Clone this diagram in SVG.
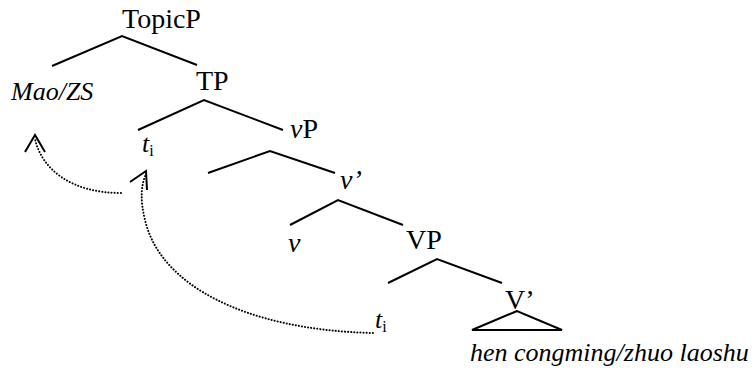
<svg xmlns="http://www.w3.org/2000/svg" width="755" height="374" viewBox="0 0 755 374">
<style>
text{font-family:"Liberation Serif","Times New Roman",serif;fill:#000}
.up{font-size:28px}
.it{font-size:26px;font-style:italic}
.sub{font-size:16px;font-style:normal}
.br{stroke:#000;stroke-width:2;fill:none;stroke-linecap:butt}
.mv{stroke:#000;stroke-width:2;fill:none;stroke-dasharray:0.1 3;stroke-linecap:round}
.ah{stroke:#000;stroke-width:2;fill:none}
</style>
<rect width="755" height="374" fill="#fff"/>
<g id="connectors">
<path class="br" d="M52,66 L122,36 L197,65"/>
<path class="br" d="M138,130 L204,100 L283,130"/>
<path class="br" d="M208,173 L270,151 L335,173"/>
<path class="br" d="M290,225 L338,200 L403,225"/>
<path class="br" d="M388,283 L437,259 L502,283"/>
<path class="br" d="M517,311 L472,330 L562,330 Z"/>
<path class="mv" d="M121,193 C72,193 42,170 35,139"/>
<polyline class="ah" points="25,152 35,135 45,152"/>
<path class="mv" d="M373,333 C245,330 160,285 145,220 C140,200 141,185 146,174"/>
<polyline class="ah" points="130,182 146,171 147,190"/>
</g>
<g id="TopicP"><text class="up" x="122" y="28">TopicP</text></g>
<g id="MaoZS"><text class="it" x="11" y="100">Mao/ZS</text></g>
<g id="TP"><text class="up" x="196" y="90">TP</text></g>
<g id="t1"><text x="142" y="152"><tspan class="it">t</tspan><tspan class="sub" dy="4">i</tspan></text></g>
<g id="vP"><text class="up" x="290" y="138"><tspan font-style="italic">v</tspan>P</text></g>
<g id="vbar"><text class="up" x="340" y="189" font-style="italic">v’</text></g>
<g id="v"><text class="up" x="288" y="252" font-style="italic">v</text></g>
<g id="VP"><text class="up" x="406" y="249">VP</text></g>
<g id="Vbar"><text class="up" x="505" y="309">V’</text></g>
<g id="t2"><text x="375" y="328"><tspan class="it">t</tspan><tspan class="sub" dy="4">i</tspan></text></g>
<g id="hen"><text class="it" x="470" y="361">hen congming/zhuo laoshu</text></g>
</svg>
